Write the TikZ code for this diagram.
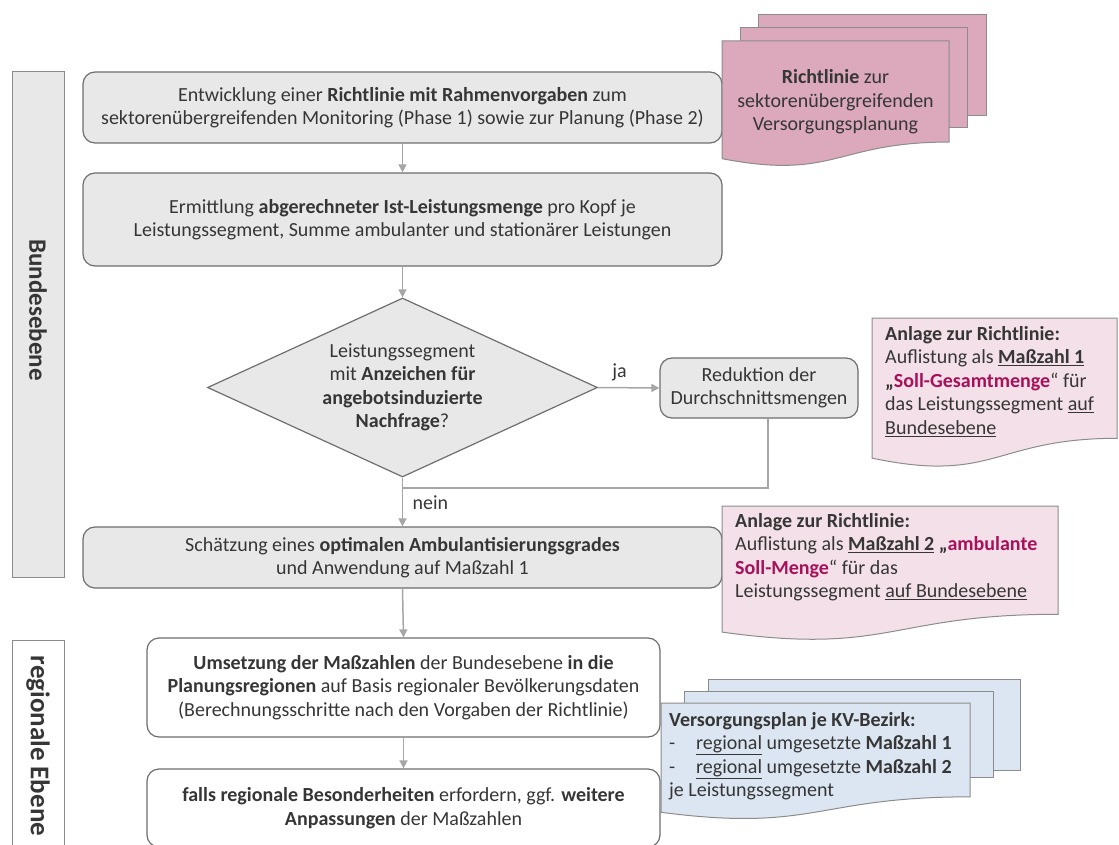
\documentclass[tikz,border=0pt]{standalone}
\usepackage{fontspec}
\setmainfont{Carlito}
\usetikzlibrary{shapes.geometric,arrows.meta,calc}
\definecolor{boxgray}{HTML}{E8E8E8}
\definecolor{bordergray}{HTML}{6E6E6E}
\definecolor{arrowgray}{HTML}{A6A6A6}
\definecolor{pinkdark}{HTML}{DBA8BC}
\definecolor{pinklight}{HTML}{F3E0E8}
\definecolor{bluelight}{HTML}{DCE6F2}
\definecolor{docborder}{HTML}{8C8C8C}
\definecolor{mag}{HTML}{A8115A}
\definecolor{txt}{HTML}{363636}
\newcommand{\docshape}[5]{%
  \draw[#5] (#1,#2) -- (#3,#2) -- (#3,{#2+0.802*#4})
   .. controls ({(#1+#3)/2},{#2+0.802*#4}) and ({(#1+#3)/2},{#2+1.107*#4}) ..
   (#1,{#2+0.934*#4}) -- cycle;}
\begin{document}
\begin{tikzpicture}[x=1pt,y=-1pt,
  every node/.style={font=\fontsize{20}{23.5}\selectfont, text=txt},
  procbox/.style={draw=bordergray, line width=1.2pt, rounded corners=12pt, fill=boxgray, align=center, inner sep=0pt},
  whitebox/.style={procbox, fill=white},
  sidebox/.style={draw=docborder, line width=1pt, inner sep=0pt},
  flow/.style={draw=arrowgray, line width=1.5pt, -{Triangle[length=8pt,width=8pt]}},
  flowline/.style={draw=arrowgray, line width=1.5pt},
  docdark/.style={draw=docborder, line width=1pt, fill=pinkdark},
  doclight/.style={draw=docborder, line width=1pt, fill=pinklight},
  docblue/.style={draw=docborder, line width=1pt, fill=bluelight},
  doctext/.style={align=left, anchor=north west, inner sep=0pt},
  sidelabel/.style={rotate=-90, font=\fontsize{25}{28}\selectfont\bfseries}
]
\useasboundingbox (0,0) rectangle (1119,845);

% side labels
\node[sidebox, fill=boxgray, minimum width=52pt, minimum height=505pt] (bund) at (38,324.5) {};
\node[sidelabel] (bundtxt) at (38,310) {Bundesebene};
\node[sidebox, fill=white, minimum width=52pt, minimum height=220pt] (reg) at (38,750) {};
\node[sidelabel, font=\fontsize{27}{30}\selectfont\bfseries] (regtxt) at (38,746) {regionale Ebene};

% process boxes
\node[procbox, minimum width=639pt, minimum height=71pt] (b1) at (402.5,107.5)
  {Entwicklung einer \textbf{Richtlinie mit Rahmenvorgaben} zum\\ sektorenübergreifenden Monitoring (Phase 1) sowie zur Planung (Phase 2)};
\node[procbox, minimum width=639pt, minimum height=93pt] (b2) at (402.5,219.5)
  {Ermittlung \textbf{abgerechneter Ist-Leistungsmenge} pro Kopf je\\ Leistungssegment, Summe ambulanter und stationärer Leistungen};
\node[diamond, aspect=2.18, draw=bordergray, line width=1.2pt, fill=boxgray, align=center, inner sep=0pt,
  minimum width=390pt, minimum height=179pt] (dec) at (402.5,387.5)
  {Leistungssegment\\ mit \textbf{Anzeichen für}\\ \textbf{angebotsinduzierte}\\ \textbf{Nachfrage}?};
\node[procbox, minimum width=198pt, minimum height=60pt] (red) at (759,388)
  {Reduktion der\\ Durchschnittsmengen};
\node[procbox, minimum width=639pt, minimum height=61pt] (b3) at (402.5,557.5)
  {Schätzung eines \textbf{optimalen Ambulantisierungsgrades}\\ und Anwendung auf Maßzahl 1};
\node[whitebox, minimum width=513pt, minimum height=99pt] (b4) at (403.5,687.5)
  {\textbf{Umsetzung der Maßzahlen} der Bundesebene \textbf{in die}\\ \textbf{Planungsregionen} auf Basis regionaler Bevölkerungsdaten\\ (Berechnungsschritte nach den Vorgaben der Richtlinie)};
\node[whitebox, minimum width=513pt, minimum height=78pt] (b5) at (403.5,808)
  {\textbf{falls regionale Besonderheiten} erfordern, ggf. \textbf{weitere}\\ \textbf{Anpassungen} der Maßzahlen};

% connectors
\draw[flow] (b1.south) -- (b2.north);
\draw[flow] (b2.south) -- (dec.north);
\draw[flow] (dec.east) -- node[above, pos=0.35, yshift=3pt] (ja) {ja} (red.west);
\coordinate (fb) at (768,488);
\draw[flowline] (red.south -| fb) -- (fb) -- (fb -| dec.south);
\draw[flow] (dec.south) -- node[right, pos=0.52, xshift=6pt] (nein) {nein} (b3.north);
\draw[flow] (b3.south) -- (b4.north);
\draw[flow] (b4.south) -- (b5.north);

% pink document stack
\draw[docdark] (758,15) rectangle (986,116);
\draw[docdark] (740,28) rectangle (967,128);
\docshape{722}{41}{949}{126}{docdark}
\node[align=center, inner sep=0pt] (rl) at (835.5,102)
  {\textbf{Richtlinie} zur\\ sektorenübergreifenden\\ Versorgungsplanung};

% Anlage 1
\docshape{872}{318}{1117}{150}{doclight}
\node[doctext] (an1) at (885,326)
  {\textbf{Anlage zur Richtlinie:}\\
   Auflistung als \underline{\textbf{Maßzahl 1}}\\
   \textbf{„\textcolor{mag}{Soll-Gesamtmenge}}“ für\\
   das Leistungssegment \underline{auf}\\
   \underline{Bundesebene}};

% Anlage 2
\docshape{722}{506}{1058}{135}{doclight}
\node[doctext] (an2) at (735,513)
  {\textbf{Anlage zur Richtlinie:}\\
   Auflistung als \underline{\textbf{Maßzahl 2}} \textbf{„\textcolor{mag}{ambulante}}\\
   \textbf{\textcolor{mag}{Soll-Menge}}“ für das\\
   Leistungssegment \underline{auf Bundesebene}};

% blue document stack
\draw[docblue] (708,679) rectangle (1020,770);
\draw[docblue] (684,691) rectangle (993,777);
\docshape{661}{703}{970}{117}{docblue}
\node[doctext] (vp) at (669,712)
  {\textbf{Versorgungsplan je KV-Bezirk:}\\
   \makebox[27pt][l]{-}\underline{regional} umgesetzte \textbf{Maßzahl 1}\\
   \makebox[27pt][l]{-}\underline{regional} umgesetzte \textbf{Maßzahl 2}\\
   je Leistungssegment};
\end{tikzpicture}
\end{document}
